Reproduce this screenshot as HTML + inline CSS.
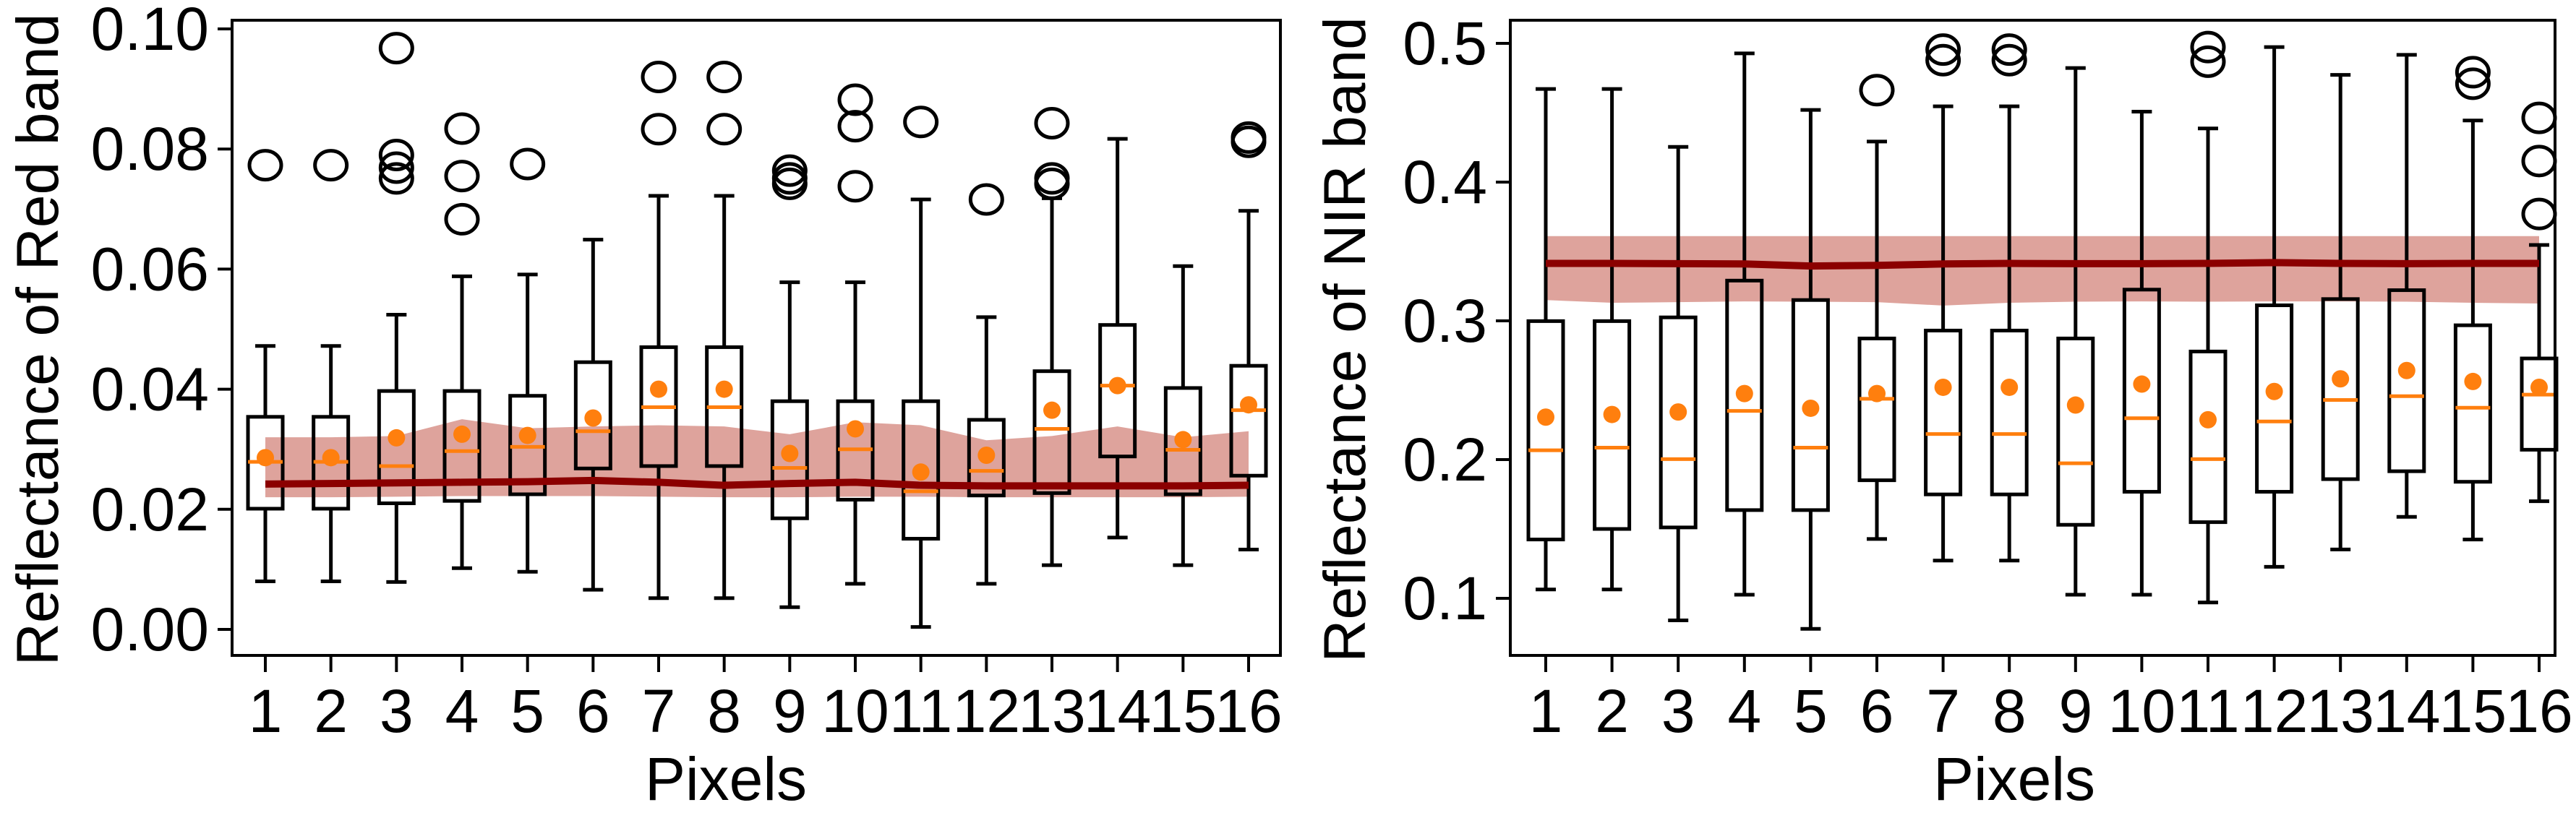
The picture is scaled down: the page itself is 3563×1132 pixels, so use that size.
<!DOCTYPE html>
<html><head><meta charset="utf-8"><style>
html,body{margin:0;padding:0;background:#fff;}
svg{display:block;}
text{font-family:"Liberation Sans","DejaVu Sans",sans-serif;fill:#000;}
</style></head><body>
<svg id="chart" width="3563" height="1132" viewBox="0 0 3563 1132" xmlns="http://www.w3.org/2000/svg"></svg>
<script>
const categories = [1,2,3,4,5,6,7,8,9,10,11,12,13,14,15,16];
// Red band
const redLow  = [.0080,.0080,.0079,.0102,.0096,.0066,.0052,.0052,.0037,.0076,.0004,.0076,.0107,.0153,.0107,.0133];
const redQ1   = [.0201,.0201,.0210,.0214,.0225,.0268,.0272,.0272,.0185,.0216,.0151,.0223,.0227,.0288,.0225,.0256];
const redMed  = [.0279,.0279,.0272,.0297,.0304,.0330,.0370,.0370,.0269,.0300,.0230,.0264,.0334,.0406,.0299,.0365];
const redQ3   = [.0354,.0354,.0397,.0397,.0389,.0445,.0470,.0470,.0380,.0380,.0380,.0349,.0430,.0507,.0402,.0439];
const redHigh = [.0472,.0472,.0524,.0588,.0591,.0649,.0722,.0722,.0578,.0578,.0716,.0520,.0718,.0817,.0605,.0697];
const redMean = [.0286,.0286,.0319,.0325,.0323,.0352,.0400,.0400,.0293,.0334,.0262,.0290,.0365,.0406,.0316,.0374];
const redOut  = [[.0773],[.0773],[.0968,.0790,.0769,.0751],[.0834,.0755,.0683],[.0775],[],[.0920,.0833],[.0920,.0833],[.0764,.0751,.0742],[.0882,.0838,.0738],[.0845],[.0716],[.0843,.0751,.0742],[],[],[.0819,.0812]];
const redLine = [.0242,.0243,.0244,.0245,.0246,.0248,.0245,.0240,.0243,.0245,.0240,.0239,.0239,.0239,.0239,.0240];
const redBandTop = [.0320,.0320,.0322,.0350,.0335,.0338,.0340,.0338,.0325,.0345,.0340,.0315,.0322,.0338,.0320,.0330];
const redBandBot = [.0220,.0220,.0221,.0222,.0222,.0222,.0221,.0220,.0220,.0221,.0221,.0220,.0220,.0220,.0220,.0221];
const redTicks = [0.00,0.02,0.04,0.06,0.08,0.10];
const redTickLabels = ["0.00","0.02","0.04","0.06","0.08","0.10"];
// NIR band
const nirLow  = [.1064,.1064,.0841,.1026,.0780,.1428,.1272,.1272,.1026,.1026,.0970,.1227,.1352,.1587,.1424,.1700];
const nirQ1   = [.1424,.1500,.1511,.1636,.1636,.1851,.1749,.1749,.1530,.1768,.1549,.1768,.1859,.1916,.1840,.2071];
const nirMed  = [.2067,.2086,.2003,.2351,.2086,.2438,.2184,.2184,.1973,.2298,.2003,.2275,.2430,.2457,.2374,.2468];
const nirQ3   = [.2998,.2998,.3025,.3290,.3150,.2873,.2930,.2930,.2873,.3225,.2779,.3112,.3157,.3221,.2968,.2729];
const nirHigh = [.4671,.4671,.4254,.4928,.4520,.4292,.4546,.4546,.4822,.4508,.4387,.4973,.4773,.4917,.4444,.3547];
const nirMean = [.2306,.2325,.2343,.2476,.2370,.2476,.2521,.2521,.2393,.2544,.2287,.2491,.2582,.2642,.2563,.2521];
const nirOut  = [[],[],[],[],[],[.4663],[.4955,.4879],[.4955,.4879],[],[],[.4973,.4868],[],[],[],[.4792,.4709],[.4463,.4152,.3770]];
const nirLine = [.3414,.3414,.3412,.3410,.3395,.3400,.3410,.3414,.3412,.3412,.3414,.3420,.3414,.3412,.3414,.3414];
const nirBandTop = [.3611,.3611,.3611,.3611,.3611,.3611,.3611,.3611,.3611,.3611,.3611,.3611,.3611,.3611,.3611,.3611];
const nirBandBot = [.3150,.3130,.3135,.3140,.3138,.3135,.3110,.3130,.3138,.3140,.3138,.3140,.3140,.3138,.3130,.3125];
const nirTicks = [0.1,0.2,0.3,0.4,0.5];
const nirTickLabels = ["0.1","0.2","0.3","0.4","0.5"];

const NS="http://www.w3.org/2000/svg";
const svg=document.getElementById('chart');
function mk(tag,attrs,parent){const e=document.createElementNS(NS,tag);for(const k in attrs)e.setAttribute(k,attrs[k]);(parent||svg).appendChild(e);return e;}

function panel(cfg){
  const g=mk('g',{});
  
  
  const xs=i=>cfg.x1+(cfg.x16-cfg.x1)*i/15;
  const ys=v=>cfg.yA+(v-cfg.vA)*(cfg.yB-cfg.yA)/(cfg.vB-cfg.vA);
  // band
  let d='';
  cfg.bandTop.forEach((v,i)=>{d+=(i?'L':'M')+xs(i)+','+ys(v);});
  for(let i=cfg.bandBot.length-1;i>=0;i--)d+='L'+xs(i)+','+ys(cfg.bandBot[i]);
  const band=mk('path',{d:d+'Z',fill:'#dea39c'},g);
  
  
  // boxes
  const hw=24, cw=14;
  categories.forEach((c,i)=>{
    const x=xs(i);
    const bg=mk('g',{stroke:'#000','stroke-width':5,fill:'none'},g);
    
    
    mk('line',{x1:x,x2:x,y1:ys(cfg.low[i]),y2:ys(cfg.q1[i])},bg);
    mk('line',{x1:x,x2:x,y1:ys(cfg.q3[i]),y2:ys(cfg.high[i])},bg);
    mk('line',{x1:x-cw,x2:x+cw,y1:ys(cfg.low[i]),y2:ys(cfg.low[i])},bg);
    mk('line',{x1:x-cw,x2:x+cw,y1:ys(cfg.high[i]),y2:ys(cfg.high[i])},bg);
    mk('rect',{x:x-hw,y:ys(cfg.q3[i]),width:2*hw,height:ys(cfg.q1[i])-ys(cfg.q3[i])},bg);
    const m=mk('line',{x1:x-hw,x2:x+hw,y1:ys(cfg.med[i]),y2:ys(cfg.med[i]),stroke:'#ff7f0e','stroke-width':5},g);
    
    
    cfg.out[i].forEach(v=>{
      const o=mk('ellipse',{cx:x,cy:ys(v),rx:22,ry:20,fill:'none',stroke:'#000','stroke-width':5},g);
      
      
    });
  });
  // line
  let ld='';
  cfg.line.forEach((v,i)=>{ld+=(i?'L':'M')+xs(i)+','+ys(v);});
  const ln=mk('path',{d:ld,fill:'none',stroke:'#8b0000','stroke-width':10},g);
  
  
  categories.forEach((c,i)=>{
    const p=mk('circle',{cx:xs(i),cy:ys(cfg.mean[i]),r:12,fill:'#ff7f0e'},g);
    
    
  });
  // frame
  const fr=mk('rect',{x:cfg.L,y:28,width:cfg.R-cfg.L,height:879,fill:'none',stroke:'#000','stroke-width':4},g);
  
  
  // y ticks
  cfg.ticks.forEach((t,i)=>{
    const y=ys(t);
    mk('line',{x1:cfg.L-20,x2:cfg.L,y1:y,y2:y,stroke:'#000','stroke-width':4},g);
    const tx=mk('text',{x:cfg.L-32,y:y+29,'font-size':84,'text-anchor':'end'},g);
    tx.textContent=cfg.tickLabels[i];
    
    
  });
  // x ticks
  categories.forEach((c,i)=>{
    const x=xs(i);
    mk('line',{x1:x,x2:x,y1:907,y2:930,stroke:'#000','stroke-width':4},g);
    const tx=mk('text',{x:x,y:1013,'font-size':84,'text-anchor':'middle'},g);
    tx.textContent=c;
    
    
  });
  const xl=mk('text',{x:cfg.xlabelX,y:1107,'font-size':84,'text-anchor':'middle'},g);
  xl.textContent='Pixels';
  
  
  const yl=mk('text',{x:0,y:0,'font-size':82,'text-anchor':'middle',transform:'translate('+cfg.ylabelX+',470) rotate(-90)'},g);
  yl.textContent=cfg.ylabel;
  
  
}

panel({name:'red-band-panel',L:321,R:1771,x1:367,x16:1727,yA:871,vA:0,yB:40,vB:0.10,
  low:redLow,q1:redQ1,med:redMed,q3:redQ3,high:redHigh,mean:redMean,out:redOut,line:redLine,
  bandTop:redBandTop,bandBot:redBandBot,ticks:redTicks,tickLabels:redTickLabels,
  xlabelX:1004,ylabelX:80,ylabel:'Reflectance of Red band'});
panel({name:'nir-band-panel',L:2089,R:3534,x1:2138,x16:3512,yA:828,vA:0.1,yB:60,vB:0.5,
  low:nirLow,q1:nirQ1,med:nirMed,q3:nirQ3,high:nirHigh,mean:nirMean,out:nirOut,line:nirLine,
  bandTop:nirBandTop,bandBot:nirBandBot,ticks:nirTicks,tickLabels:nirTickLabels,
  xlabelX:2786,ylabelX:1888,ylabel:'Reflectance of NIR band'});
</script>
</body></html>
